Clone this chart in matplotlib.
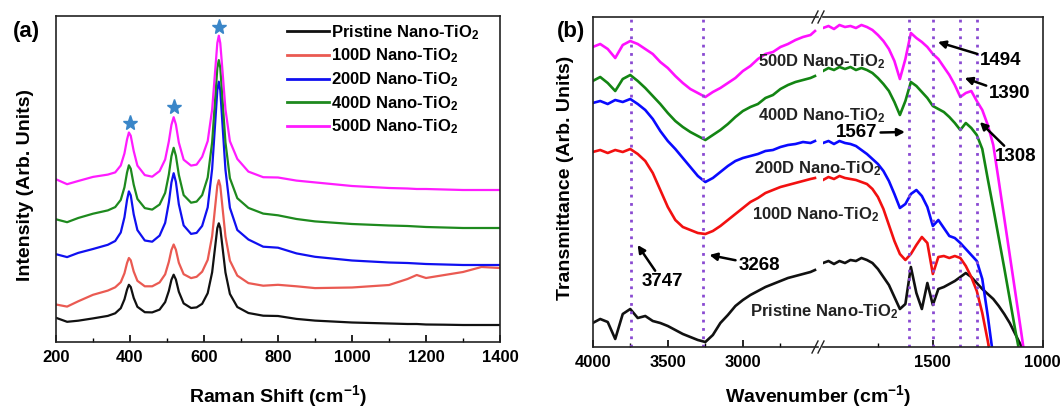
import matplotlib
matplotlib.use('Agg')
import matplotlib.pyplot as plt
from matplotlib.lines import Line2D
from matplotlib.ticker import MultipleLocator, FixedLocator

plt.rcParams['font.family'] = ['Liberation Sans', 'DejaVu Sans']
plt.rcParams['font.weight'] = 'bold'
plt.rcParams['mathtext.fontset'] = 'custom'
plt.rcParams['mathtext.rm'] = 'Liberation Sans:bold'
plt.rcParams['mathtext.it'] = 'Liberation Sans:bold'
plt.rcParams['mathtext.bf'] = 'Liberation Sans:bold'
plt.rcParams['mathtext.default'] = 'rm'

# ---------------- Panel (a): Raman data ----------------
raman_x = [200, 230, 260, 300, 340, 360, 375, 385, 392, 397, 402, 410, 420, 440, 460, 480,
           495, 505, 512, 518, 524, 532, 545, 565, 580, 595, 610, 622, 630, 636, 640, 644,
           650, 658, 670, 690, 720, 760, 800, 850, 900, 1000, 1100, 1150, 1175, 1200, 1250,
           1300, 1350, 1400]
raman_pristine = [24.2, 20.2, 21.3, 23.6, 26.1, 28.7, 33.8, 42.6, 52.4, 57.2, 55, 44.1, 35.2, 29.8, 29.6, 32.4,
                  39.9, 51.1, 62.2, 67.3, 62.5, 50.2, 38.6, 34, 34.6, 38.2, 48.8, 69.7, 94.8, 113.9, 118.7, 113.9,
                  94.8, 69.5, 48.1, 35, 29, 26.3, 26, 23.1, 21.4, 19.5, 18.5, 18, 18, 17.5, 17.3,
                  17, 17, 17]
raman_100d = [37.5, 35.4, 40.7, 47.2, 51.4, 54.7, 59.8, 68.7, 79, 84, 81.7, 70.5, 61.2, 55.7, 55.7, 59.6,
              67.7, 80.2, 92, 97.5, 92.3, 79.2, 67.8, 63.9, 65.2, 70.3, 82.1, 105.9, 134.7, 156.3, 161.8, 156.2,
              134.5, 105.5, 81.4, 66.4, 58.9, 56.3, 57.2, 55.7, 53.9, 54.5, 57, 63, 67, 64, 67,
              70, 75, 74]
raman_200d = [87.8, 84.9, 89.1, 93, 97.2, 101, 109.5, 124.7, 142.1, 150.6, 146.7, 127.7, 111.9, 101.5, 100.3, 106.4,
              119.1, 139.5, 159.5, 168.8, 160.1, 137.7, 116.6, 108.1, 109.1, 116.1, 134.6, 173.1, 217.8, 251.8, 260.3, 251.7,
              217.5, 172.2, 134.2, 112, 102.5, 95.3, 94.3, 88.6, 85.2, 81.5, 79.5, 79, 78.5, 78, 77.5,
              77, 77, 77]
raman_400d = [122.7, 119.8, 124, 128.3, 131.6, 134.9, 142.1, 154.7, 169.5, 176.7, 173.3, 157.4, 143.1, 133.9, 132.4, 137.5,
              149.1, 167.5, 185.8, 194.2, 186.3, 167.1, 146.9, 139.3, 140.4, 146.9, 164.5, 199.7, 241.9, 273.9, 281.9, 274.2,
              242.2, 199.6, 163.8, 143.8, 134.1, 128.4, 126.7, 123, 120.6, 118, 116.5, 116, 115.5, 115, 114.5,
              114, 114, 114]
raman_500d = [162.7, 157.8, 161, 165.1, 167.4, 169.6, 176.5, 188.6, 202.6, 209.5, 206.3, 191, 176.4, 166.9, 165.3, 170.9,
              182.5, 200.6, 217.2, 224.8, 217.6, 199.4, 182.3, 176.4, 177.4, 185.2, 200.9, 232.5, 270.4, 299, 306.3, 298.9,
              271, 232.7, 200.8, 183.1, 170.4, 164.8, 164.5, 161.4, 159.6, 156, 154, 153.5, 153, 153, 152.5,
              152, 152, 152]
star_x = [400, 519, 641]
star_y = [219, 235, 315]
raman_ticks = [200, 400, 600, 800, 1000, 1200, 1400]

labels = ['Pristine Nano-TiO$_2$', '100D Nano-TiO$_2$', '200D Nano-TiO$_2$',
          '400D Nano-TiO$_2$', '500D Nano-TiO$_2$']
colors_a = ['#111111', '#ea5a52', '#1010f0', '#1e8a1e', '#ff1cff']
colors_b = ['#111111', '#f21010', '#0a0aff', '#138513', '#ff10ff']

# ---------------- Panel (b): FTIR data ----------------
ftir_x_hi = [4000, 3950, 3900, 3850, 3800, 3750, 3700, 3650, 3600, 3550, 3500, 3450, 3400, 3350, 3300, 3250,
             3200, 3150, 3100, 3050, 3000, 2950, 2900, 2850, 2800, 2750, 2700, 2650, 2600, 2550, 2520]
ftir_hi_pristine = [24, 28, 25, 8, 33, 38, 29, 31, 26, 24, 21, 17, 13, 10, 7, 5,
                    12, 24, 32, 41, 47, 52, 56, 60, 63, 66, 69, 71, 73, 75, 77]
ftir_hi_100d = [195, 197, 194, 197, 195, 198, 193, 186, 174, 157, 140, 127, 120, 117, 114, 113,
                116, 121, 127, 133, 139, 145, 149, 154, 157, 160, 162, 164, 166, 168, 169]
ftir_hi_200d = [244, 246, 243, 247, 245, 248, 243, 237, 228, 216, 206, 198, 189, 180, 171, 165,
                169, 175, 181, 186, 189, 191, 193, 196, 197, 200, 202, 203, 205, 204, 206]
ftir_hi_400d = [266, 270, 264, 256, 268, 272, 266, 259, 251, 243, 234, 226, 220, 215, 211, 207,
                212, 217, 223, 230, 236, 240, 243, 249, 252, 258, 262, 265, 267, 269, 271]
ftir_hi_500d = [300, 303, 298, 289, 302, 306, 303, 298, 293, 285, 279, 271, 264, 258, 254, 250,
                255, 259, 264, 269, 276, 281, 288, 293, 295, 300, 303, 307, 310, 312, 316]

ftir_x_lo = [2000, 1975, 1950, 1925, 1900, 1875, 1850, 1825, 1800, 1775, 1750, 1725, 1700, 1675, 1650, 1625,
             1600, 1575, 1550, 1525, 1500, 1475, 1450, 1425, 1400, 1375, 1350, 1325, 1300, 1275, 1250, 1225,
             1200, 1175, 1150, 1125, 1100, 1075]
ftir_lo_pristine = [84, 86, 83, 86, 84, 87, 86, 89, 87, 84, 78, 70, 62, 50, 38, 43,
                    80, 54, 38, 64, 42, 58, 60, 63, 66, 70, 74, 70, 64, 58, 53, 48,
                    41, 33, 24, 13, 2, -8]
ftir_lo_100d = [167, 170, 168, 171, 169, 168, 167, 165, 163, 158, 150, 138, 122, 106, 93, 87,
                93, 102, 110, 104, 73, 90, 91, 89, 91, 89, 81, 70, 56, 34, 6, -25,
                -55, -85, -115, -145, -175, -205]
ftir_lo_200d = [204, 206, 203, 206, 204, 203, 201, 197, 193, 188, 183, 176, 166, 153, 139, 143,
                153, 157, 151, 140, 121, 127, 119, 111, 109, 104, 98, 92, 86, 68, 31, -10,
                -50, -90, -130, -170, -210, -250]
ftir_lo_400d = [276, 279, 277, 280, 278, 280, 277, 279, 277, 274, 269, 263, 256, 245, 232, 246,
                265, 261, 255, 249, 241, 238, 235, 230, 224, 217, 224, 219, 212, 198, 168, 139,
                109, 79, 48, 17, -12, -40]
ftir_lo_500d = [319, 321, 318, 322, 320, 321, 319, 322, 320, 317, 312, 306, 298, 286, 268, 288,
                314, 309, 305, 300, 293, 288, 280, 272, 262, 250, 254, 256, 246, 237, 222, 202,
                166, 129, 92, 55, 18, -20]
band_hi = [3747, 3268]
band_lo = [1610, 1500, 1378, 1298]

W, H = 1062, 409
fig = plt.figure(figsize=(W / 100, H / 100), dpi=100)


def fx(px):
    return px / W


def fy(py):
    return 1 - py / H


LABEL_FS = 14
TICK_FS = 12

# ---------- panel a ----------
axa = fig.add_axes([fx(56), fy(342), (500 - 56) / W, (342 - 16) / H])
series_a = [raman_pristine, raman_100d, raman_200d, raman_400d, raman_500d]
for ys, c, lab in zip(series_a, colors_a, labels):
    axa.plot(raman_x, ys, color=c, lw=1.6, label=lab)
axa.plot(star_x, star_y, ls='none', marker='*', ms=11, color='#3a86c8', mec='#3a86c8')
axa.set_xlim(200, 1400)
axa.set_ylim(0, 326)
axa.set_yticks([])
axa.xaxis.set_major_locator(FixedLocator(raman_ticks))
axa.xaxis.set_minor_locator(MultipleLocator(100))
axa.tick_params(axis='x', which='major', direction='in', length=5, width=1.2, labelsize=TICK_FS, pad=6)
axa.tick_params(axis='x', which='minor', direction='in', length=3, width=1.0)
for lab in axa.get_xticklabels():
    lab.set_fontweight('bold')
for s in axa.spines.values():
    s.set_linewidth(1.2)
    s.set_color('#222222')
fig.text(fx(278), fy(396), 'Raman Shift (cm$^{-1}$)', fontsize=LABEL_FS, fontweight='bold',
         ha='center', va='center')
fig.text(fx(26), fy(185), 'Intensity (Arb. Units)', fontsize=LABEL_FS, fontweight='bold',
         ha='center', va='center', rotation=90)
leg = axa.legend(loc='upper left', bbox_to_anchor=(fx(287), fy(23)), bbox_transform=fig.transFigure,
                 frameon=False, fontsize=12, handlelength=2.5, handletextpad=0.15,
                 labelspacing=0.3, borderpad=0, borderaxespad=0)
for t in leg.get_texts():
    t.set_fontweight('bold')
for l in leg.get_lines():
    l.set_linewidth(2.0)
fig.text(fx(26), fy(32), '(a)', fontsize=16, fontweight='bold', ha='center', va='center')

# ---------- panel b ----------
b_bottom, b_top = 347, 17
ax1 = fig.add_axes([fx(592.7), fy(b_bottom), (818 - 592.7) / W, (b_bottom - b_top) / H])
ax2 = fig.add_axes([fx(823), fy(b_bottom), (1042.7 - 823) / W, (b_bottom - b_top) / H])

series_hi = [ftir_hi_pristine, ftir_hi_100d, ftir_hi_200d, ftir_hi_400d, ftir_hi_500d]
series_lo = [ftir_lo_pristine, ftir_lo_100d, ftir_lo_200d, ftir_lo_400d, ftir_lo_500d]
for ys, c in zip(series_hi, colors_b):
    ax1.plot(ftir_x_hi, ys, color=c, lw=1.9)
for ys, c in zip(series_lo, colors_b):
    ax2.plot(ftir_x_lo, ys, color=c, lw=1.9)

dot_col = '#8a4ad2'
for b in band_hi:
    ax1.axvline(b, color=dot_col, ls=(0, (1, 2)), lw=2.0)
for b in band_lo:
    ax2.axvline(b, color=dot_col, ls=(0, (1, 2)), lw=2.0)

ax1.set_xlim(4000, 2500)
ax2.set_xlim(2000, 1000)
for ax in (ax1, ax2):
    ax.set_ylim(0, 330)
    ax.set_yticks([])
    for s in ax.spines.values():
        s.set_linewidth(1.2)
        s.set_color('#222222')
    ax.tick_params(axis='x', which='major', direction='in', length=5, width=1.2, labelsize=TICK_FS, pad=6)
    ax.tick_params(axis='x', which='minor', direction='in', length=3, width=1.0)
ax1.spines['right'].set_visible(False)
ax2.spines['left'].set_visible(False)
ax1.xaxis.set_major_locator(FixedLocator([4000, 3500, 3000]))
ax1.xaxis.set_minor_locator(FixedLocator([3750, 3250, 2750]))
ax2.xaxis.set_major_locator(FixedLocator([1500, 1000]))
ax2.xaxis.set_minor_locator(FixedLocator([1750, 1250]))
for ax in (ax1, ax2):
    for lab in ax.get_xticklabels():
        lab.set_fontweight('bold')

# break marks
for py in (b_top, b_bottom):
    for x0 in (812, 818):
        fig.add_artist(Line2D([fx(x0), fx(x0 + 6)], [fy(py + 6), fy(py - 6)],
                              transform=fig.transFigure, color='#222222', lw=1.0))

fig.text(fx(818), fy(396), 'Wavenumber (cm$^{-1}$)', fontsize=LABEL_FS, fontweight='bold',
         ha='center', va='center')
fig.text(fx(565), fy(178), 'Transmittance (Arb. Units)', fontsize=LABEL_FS, fontweight='bold',
         ha='center', va='center', rotation=90)
fig.text(fx(571), fy(32), '(b)', fontsize=16, fontweight='bold', ha='center', va='center')

# curve labels
curve_labels = [(824, 312, labels[0]), (816, 215, labels[1]), (818, 169, labels[2]),
                (822, 116, labels[3]), (822, 62, labels[4])]
for px, py, t in curve_labels:
    fig.text(fx(px), fy(py), t, fontsize=12, fontweight='bold', ha='center', va='center',
             color='#222222')

# band annotations
arrow_kw = dict(arrowstyle='-|>', color='black', lw=1.8, mutation_scale=11, shrinkA=0, shrinkB=0)
ann = [(ax1, '3747', (3701, 102), (3533, 65)),
       (ax1, '3268', (3223, 92), (2892, 82)),
       (ax2, '1567', (1627, 215), (1845, 214)),
       (ax2, '1494', (1477, 305), (1191, 286)),
       (ax2, '1390', (1355, 269), (1150, 253)),
       (ax2, '1308', (1286, 225), (1123, 190))]
for ax, t, xy, xyt in ann:
    ax.annotate(t, xy=xy, xytext=xyt, textcoords='data', fontsize=13.5, fontweight='bold',
                ha='center', va='center', arrowprops=arrow_kw, annotation_clip=False)

fig.savefig('out.png', dpi=100)
